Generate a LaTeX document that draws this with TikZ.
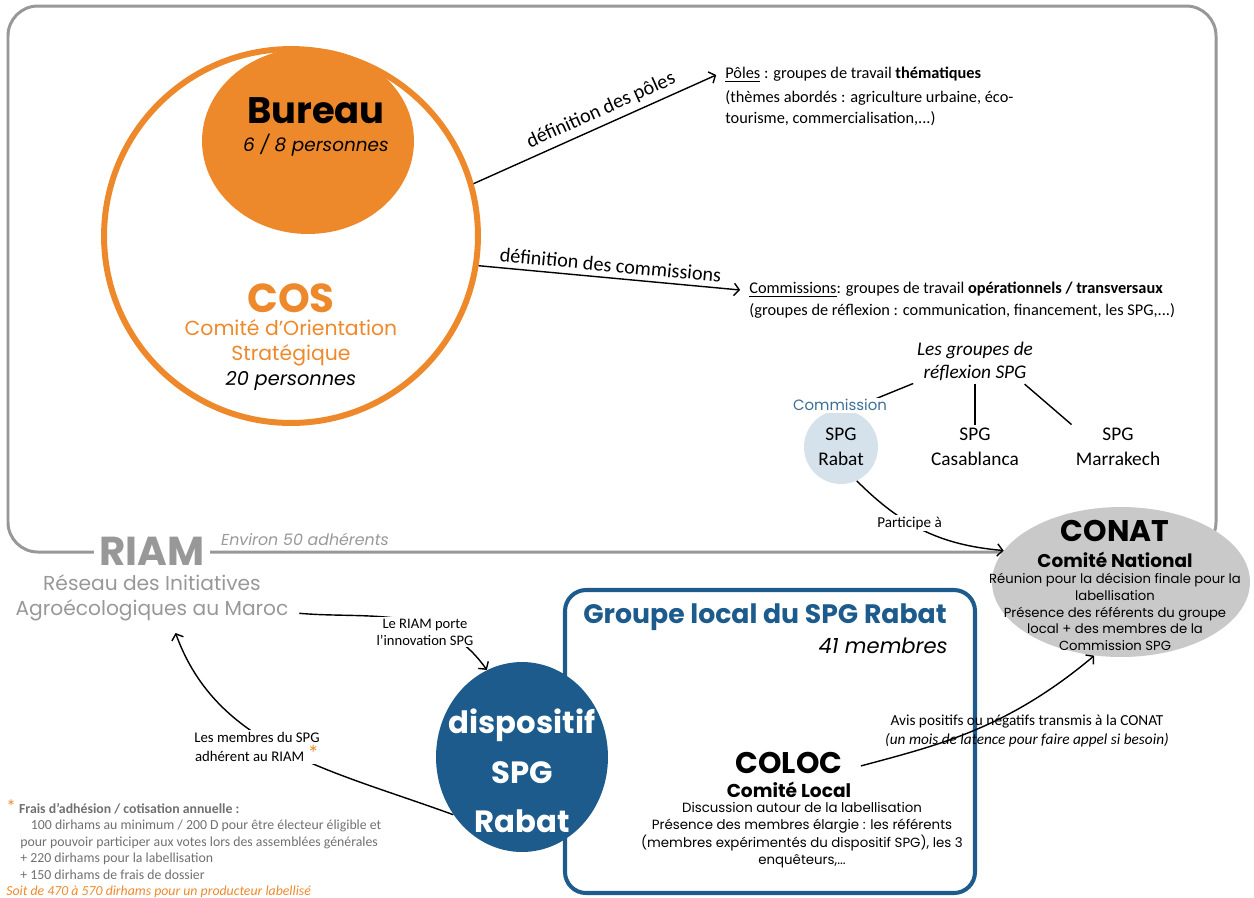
\documentclass[tikz,border=0pt]{standalone}
\usepackage{fontspec}
\setmainfont{Carlito}
\newfontfamily\gothic{Poppins}
\usetikzlibrary{arrows.meta, shapes.geometric}
\definecolor{cosorange}{RGB}{238,137,43}
\definecolor{spgblue}{RGB}{28,91,140}
\definecolor{commblue}{RGB}{62,110,150}
\definecolor{paleblue}{RGB}{213,226,236}
\definecolor{conatgray}{RGB}{201,201,201}
\definecolor{riamgray}{RGB}{152,152,152}
\definecolor{notegray}{RGB}{112,112,112}
\newcommand{\fsz}[2]{\fontsize{#1}{#2}\selectfont}

\begin{document}
\begin{tikzpicture}[x=0.02cm, y=-0.02cm, >={Straight Barb[length=3pt,width=7pt]},
    link/.style={->, line width=0.8pt},
    lbl/.style={inner sep=0pt},
    small/.style={font=\fsz{9.3}{12}},
    gothbody/.style={font=\gothic\fsz{7.5}{9.6}}]
    \useasboundingbox (0,0) rectangle (1254,897);

    % the frame of the RIAM
    \draw[riamgray, line width=1.7pt, rounded corners=17pt] (8,6) rectangle (1216,552);

    % COS and Bureau
    \node[circle, draw=cosorange, line width=3.4pt, minimum size=7.48cm, inner sep=0pt] (cos) at (291,236) {};
    \node[ellipse, fill=cosorange, minimum width=4.24cm, minimum height=3.72cm, inner sep=0pt] (bureau) at (308,141) {};
    \node[lbl, font=\gothic\bfseries\fsz{21}{21}] at (316,111) {Bureau};
    \node[lbl, font=\gothic\itshape\fsz{10.5}{12}] at (316,145) {6 / 8 personnes};
    \node[lbl, text=cosorange, font=\gothic\bfseries\fsz{23}{23}] at (291,298) {COS};
    \node[lbl, text=cosorange, align=center, font=\gothic\fsz{11.6}{14.2}] at (291,343) {Comité d’Orientation\\Stratégique};
    \node[lbl, font=\gothic\itshape\fsz{11}{12}] at (291,381) {20 personnes};

    % poles and commissions
    \node[lbl, small, anchor=west] (poles) at (725,75) {\underline{Pôles} : groupes de travail \textbf{thématiques}};
    \node[lbl, small, anchor=west, align=left] (polesinfo) at (725,108) {(thèmes abordés : agriculture urbaine, éco-\\tourisme, commercialisation,...)};
    \node[lbl, small, anchor=west] (comm) at (749,290) {\underline{Commissions}: groupes de travail \textbf{opérationnels / transversaux}};
    \node[lbl, small, anchor=west] (comminfo) at (749,311) {(groupes de réflexion : communication, financement, les SPG,...)};

    \draw[link] (cos.16.5) -- node[lbl, pos=0.55, sloped, above=3pt, font=\fsz{11.5}{12}] {définition des pôles} ([xshift=-5pt]poles.west);
    \draw[link] (cos.-9) -- node[lbl, sloped, above=3pt, font=\fsz{11.5}{12}] {définition des commissions} ([xshift=-5pt]comm.west);

    % the SPG groups
    \node[align=center, inner sep=2pt, font=\itshape\fsz{11}{13}] (grp) at (975,361) {Les groupes de\\réflexion SPG};
    \node[circle, fill=paleblue, minimum size=1.48cm, inner sep=0pt, align=center, font=\fsz{11}{14}] (rabat) at (841,447) {SPG\\Rabat};
    \node[lbl, align=center, font=\fsz{11}{14}] (casa) at (975,447) {SPG\\Casablanca};
    \node[lbl, align=center, font=\fsz{11}{14}] (marr) at (1118,447) {SPG\\Marrakech};
    \draw[line width=0.8pt] (grp.200) -- (rabat.80);
    \draw[line width=0.8pt, shorten >=2pt] (grp.south) -- (casa.north);
    \draw[line width=0.8pt, shorten >=3pt] (grp.-25) -- (marr.north west);
    \node[fill=white, inner sep=1pt, text=commblue, font=\gothic\fsz{8.5}{10}] (commlbl) at (840,405) {Commission};

    % the local group box
    \draw[spgblue, line width=2.3pt, rounded corners=12pt] (565,590) rectangle (975,893);
    \node[lbl, text=spgblue, font=\gothic\bfseries\fsz{15.2}{16}] at (765,617) {Groupe local du SPG Rabat};
    \node[lbl, anchor=east, font=\gothic\itshape\fsz{12}{13}] at (948,646) {41 membres};

    % CONAT
    \node[ellipse, fill=conatgray, minimum width=5.16cm, minimum height=3.0cm, inner sep=0pt] (conat) at (1121,582) {};
    \node[lbl, font=\gothic\bfseries\fsz{17}{17}] at (1115,531) {CONAT};
    \node[lbl, font=\gothic\bfseries\fsz{10.5}{11}] at (1115,560) {Comité National};
    \node[lbl, gothbody, align=center] at (1115,612) {Réunion pour la décision finale pour la\\labellisation\\Présence des référents du groupe\\local + des membres de la\\Commission SPG};

    % dispositif
    \node[ellipse, fill=spgblue, minimum width=3.44cm, minimum height=3.8cm, inner sep=0pt] (disp) at (522,757) {};
    \node[lbl, text=white, align=center, font=\gothic\bfseries\fsz{17.5}{28.3}] at (522,771) {dispositif\\SPG\\Rabat};

    % COLOC
    \node[lbl, font=\gothic\bfseries\fsz{17}{17}] (coloc) at (789,763) {COLOC};
    \node[lbl, font=\gothic\bfseries\fsz{10.6}{11}] at (789,790) {Comité Local};
    \node[lbl, font=\gothic\fsz{7.6}{10}, align=center] at (802,835) {Discussion autour de la labellisation\\Présence des membres élargie : les référents\\(membres expérimentés du dispositif SPG), les 3\\enquêteurs,...};

    % RIAM
    \node[fill=white, inner xsep=3pt, inner ysep=0pt, text=riamgray, font=\gothic\bfseries\fsz{23}{23}] (riam) at (152,551) {RIAM};
    \node[lbl, text=riamgray, align=center, font=\gothic\fsz{11.5}{14.2}] (riamsub) at (152,598) {Réseau des Initiatives\\Agroécologiques au Maroc};
    \node[lbl, text=riamgray, font=\gothic\itshape\fsz{9}{10}] at (305,539) {Environ 50 adhérents};

    % connectors
    \draw[link] (rabat.-65) to[out=-45, in=175] node[pos=0.4, fill=white, inner sep=1pt, font=\fsz{8.6}{9}] {Participe à} (conat.165);
    \draw[link, shorten <=6pt] (riamsub.-6) to[out=-5, in=125] (disp.112);
    \node[fill=white, inner sep=1pt, align=center, font=\fsz{8.3}{9.6}] at (425,632) {Le RIAM porte\\l’innovation SPG};
    \draw[link, shorten >=7pt] (disp.-140) to[out=160, in=-70] ([xshift=11pt]riamsub.south);
    \node[fill=white, inner sep=1pt, align=center, font=\fsz{8.4}{11}] at (257,747) {Les membres du SPG\\adhérent au RIAM \textcolor{cosorange}{\fsz{13}{13}*}};
    \draw[link, shorten <=18pt] (coloc.-15) to[out=15, in=-140] (conat.-110);
    \node[lbl, align=center, font=\fsz{8.7}{10.6}] at (1027,731) {Avis positifs ou négatifs transmis à la CONAT\\\textit{(un mois de latence pour faire appel si besoin)}};

    % fees
    \node[lbl, anchor=north west, align=left, text=notegray, font=\fsz{7.85}{9.4}] at (6,799) {\textcolor{cosorange}{\fsz{11}{9.4}*} \textbf{Frais d’adhésion / cotisation annuelle :}\\
        \hspace*{14pt}100 dirhams au minimum / 200 D pour être électeur éligible et\\
        \hspace*{8pt}pour pouvoir participer aux votes lors des assemblées générales\\
        \hspace*{8pt}+ 220 dirhams pour la labellisation\\
        \hspace*{8pt}+ 150 dirhams de frais de dossier\\
        \textcolor{cosorange}{\itshape Soit de 470 à 570 dirhams pour un producteur labellisé}};
\end{tikzpicture}
\end{document}
